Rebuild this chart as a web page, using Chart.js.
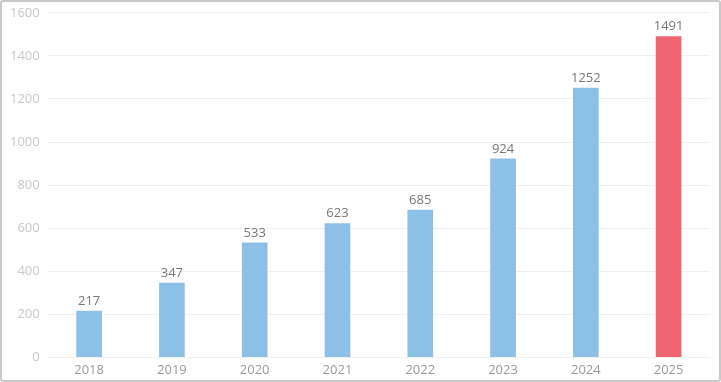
<!DOCTYPE html>
<html>
<head>
<meta charset="utf-8">
<script src="https://cdn.jsdelivr.net/npm/chart.js@4"></script>
<style>
  html, body { margin: 0; padding: 0; background: #fff; }
  #frame {
    width: 721px; height: 382px; box-sizing: border-box;
    border: 2px solid #c9c9c9; border-radius: 3px; position: relative;
  }
  #wrap { position: absolute; left: 0; top: -5px; right: 0; bottom: 5px; }
</style>
</head>
<body>
<div id="frame"><div id="wrap"><canvas id="chart"></canvas></div></div>
<script>
var years = ["2018", "2019", "2020", "2021", "2022", "2023", "2024", "2025"];
var counts = [217, 347, 533, 623, 685, 924, 1252, 1491];
var barColors = ["#8dc0e6", "#8dc0e6", "#8dc0e6", "#8dc0e6", "#8dc0e6", "#8dc0e6", "#8dc0e6", "#ef6571"];

// draws the number above each bar
var topLabels = {
    id: 'topLabels',
    afterDatasetsDraw: function(chart) {
        var ctx = chart.ctx;
        var meta = chart.getDatasetMeta(0);
        ctx.save();
        ctx.font = '13px "Open Sans"';
        ctx.fillStyle = '#777777';
        ctx.textAlign = 'center';
        ctx.textBaseline = 'bottom';
        meta.data.forEach(function(bar, i) {
            ctx.fillText(chart.data.datasets[0].data[i], bar.x, bar.y - 3);
        });
        ctx.restore();
    }
};

new Chart(document.getElementById("chart"), {
    type: 'bar',
    data: {
        labels: years,
        datasets: [{
            data: counts,
            backgroundColor: barColors,
            borderWidth: 0,
            barPercentage: 0.31,
            categoryPercentage: 1.0
        }]
    },
    options: {
        responsive: true,
        maintainAspectRatio: false,
        animation: false,
        layout: { padding: { top: 4, right: 9, left: 0, bottom: 0 } },
        plugins: {
            legend: { display: false },
            tooltip: { enabled: false }
        },
        scales: {
            x: {
                grid: { display: false },
                border: { display: false },
                ticks: { color: '#999999', font: { family: 'Open Sans', size: 13 }, padding: -3 }
            },
            y: {
                min: 0,
                max: 1600,
                ticks: {
                    stepSize: 200, color: '#c8c8c8', font: { family: 'Open Sans', size: 13 }, padding: 8,
                    callback: function(v) { return String(v); }
                },
                grid: { color: '#f0f0f0', drawTicks: false },
                border: { display: false }
            }
        }
    },
    plugins: [topLabels]
});
</script>
</body>
</html>
